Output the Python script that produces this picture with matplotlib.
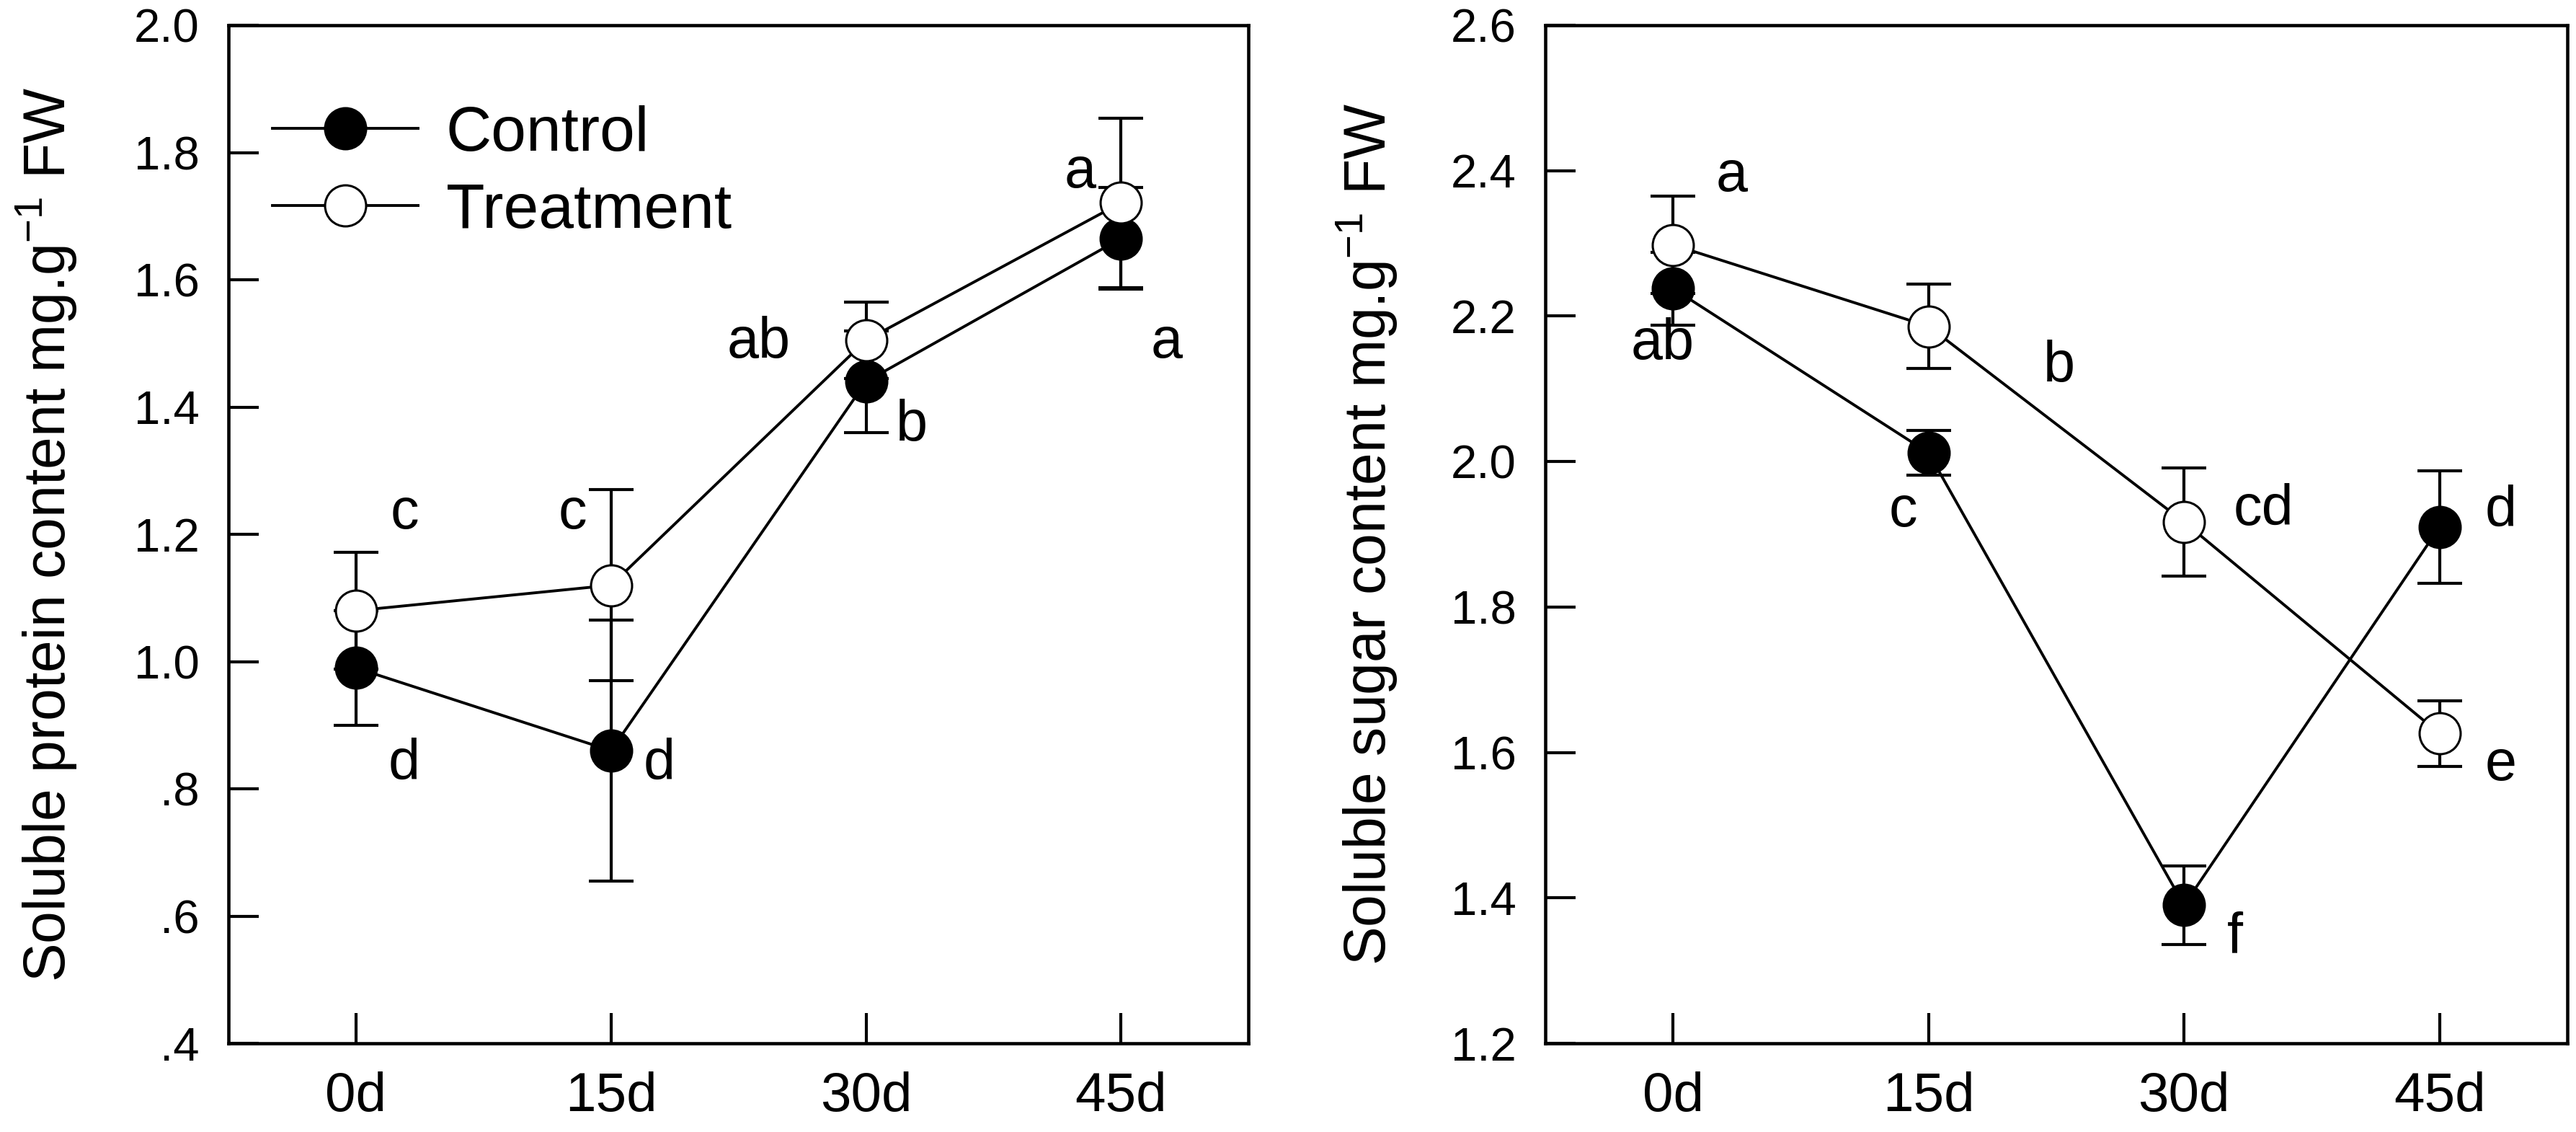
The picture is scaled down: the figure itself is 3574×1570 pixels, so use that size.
import matplotlib
matplotlib.use('Agg')
import matplotlib.pyplot as plt
from matplotlib.ticker import FixedLocator, FixedFormatter

plt.rcParams['font.family'] = ['Liberation Sans', 'DejaVu Sans']
plt.rcParams['mathtext.fontset'] = 'custom'
plt.rcParams['mathtext.rm'] = 'Liberation Sans'
plt.rcParams['mathtext.default'] = 'regular'

# sampling days
days = [0, 15, 30, 45]
day_labels = ['0d', '15d', '30d', '45d']

# soluble protein (mg/g FW)
protein_control = [0.99, 0.86, 1.44, 1.665]
protein_control_err = [0.09, 0.205, 0.08, 0.08]
protein_treat = [1.08, 1.12, 1.505, 1.721]
protein_treat_err = [0.092, 0.15, 0.06, 0.133]
protein_letters = [('c', 2.85, 1.232), ('d', 2.85, 0.838), ('c', 12.75, 1.232),
                   ('d', 17.85, 0.838), ('ab', 23.7, 1.501), ('b', 32.7, 1.371),
                   ('a', 42.6, 1.768), ('a', 47.7, 1.501)]

# soluble sugar (mg/g FW)
sugar_control = [2.238, 2.012, 1.39, 1.91]
sugar_control_err = [0.05, 0.031, 0.054, 0.077]
sugar_treat = [2.298, 2.186, 1.917, 1.626]
sugar_treat_err = [0.067, 0.058, 0.074, 0.045]
sugar_letters = [('a', 3.45, 2.392), ('ab', -0.6, 2.161), ('b', 22.65, 2.131),
                 ('c', 13.5, 1.931), ('cd', 34.65, 1.933), ('f', 33.0, 1.345),
                 ('d', 48.6, 1.931), ('e', 48.6, 1.582)]

LW = 2.8
MS = 41

fig = plt.figure(figsize=(35.74, 15.7), dpi=100)
ax1 = fig.add_axes([0.0887, 0.0783, 0.3960, 0.8994])
ax2 = fig.add_axes([0.5999, 0.0783, 0.3967, 0.8994])


def draw(ax, ctrl, ctrl_err, trt, trt_err, letters):
    ax.errorbar(days, ctrl, yerr=ctrl_err, fmt='none', ecolor='black',
                elinewidth=3.0, capsize=22, capthick=3.0, zorder=2)
    ax.errorbar(days, trt, yerr=trt_err, fmt='none', ecolor='black',
                elinewidth=3.0, capsize=22, capthick=3.0, zorder=2)
    ax.plot(days, ctrl, '-o', color='black', lw=LW, ms=MS, mfc='black',
            mec='black', mew=2.2, label='Control', zorder=3)
    ax.plot(days, trt, '-o', color='black', lw=LW, ms=MS, mfc='white',
            mec='black', mew=2.2, label='Treatment', zorder=4)
    for txt, x, y in letters:
        ax.text(x, y, txt, fontsize=57, ha='center', va='center', zorder=5)
    ax.set_xlim(-7.5, 52.5)
    ax.set_xticks(days)
    ax.set_xticklabels(day_labels)
    for s in ax.spines.values():
        s.set_linewidth(3.3)
    ax.tick_params(axis='both', direction='in', length=30, width=3.0,
                   top=False, right=False)
    ax.tick_params(axis='x', labelsize=55, pad=28)
    ax.tick_params(axis='y', labelsize=47, pad=29)


draw(ax1, protein_control, protein_control_err, protein_treat,
     protein_treat_err, protein_letters)
ax1.set_ylim(0.4, 2.0)
yt1 = [0.4, 0.6, 0.8, 1.0, 1.2, 1.4, 1.6, 1.8, 2.0]
ax1.yaxis.set_major_locator(FixedLocator(yt1))
ax1.yaxis.set_major_formatter(FixedFormatter(['.4', '.6', '.8', '1.0', '1.2',
                                              '1.4', '1.6', '1.8', '2.0']))
ax1.set_ylabel('Soluble protein content mg.g$^{-1}$ FW', fontsize=58)
ax1.yaxis.set_label_coords(-0.147, 0.5)
ax1.legend(loc='upper left', bbox_to_anchor=(0.0, 0.965), frameon=False,
           fontsize=63, handlelength=2.3, handletextpad=0.45,
           labelspacing=0.3, borderaxespad=0.3)

draw(ax2, sugar_control, sugar_control_err, sugar_treat, sugar_treat_err,
     sugar_letters)
ax2.set_ylim(1.2, 2.6)
yt2 = [1.2, 1.4, 1.6, 1.8, 2.0, 2.2, 2.4, 2.6]
ax2.yaxis.set_major_locator(FixedLocator(yt2))
ax2.yaxis.set_major_formatter(FixedFormatter(['%.1f' % v for v in yt2]))
ax2.set_ylabel('Soluble sugar content mg.g$^{-1}$ FW', fontsize=58)
ax2.yaxis.set_label_coords(-0.143, 0.5)

fig.savefig('out.png', dpi=100)
